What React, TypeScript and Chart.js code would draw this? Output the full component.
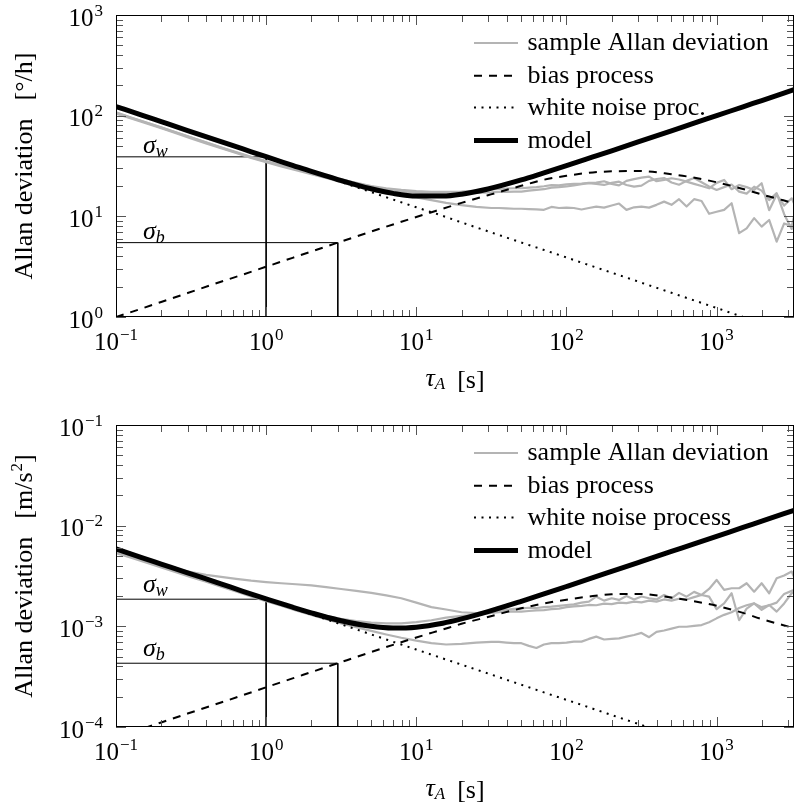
import React, { useEffect, useRef } from "react";
import { Chart, registerables } from "chart.js";

Chart.register(...registerables);

const FONT = "'Liberation Serif', 'Times New Roman', serif";
const GRAY = "rgb(180,180,180)";

// ---------- shared axes ----------
const xMin = 0.1;
const xMax = 3276.8;
const xTickExps = [-1, 0, 1, 2, 3];
const yTickExpsGyro = [0, 1, 2, 3];
const yTickExpsAccel = [-4, -3, -2, -1];

// ---------- model curves (tau grid) ----------
const tauModel = [0.1, 0.15, 0.2, 0.3, 0.5, 0.7, 1, 1.5, 2, 3, 5, 7, 10, 15, 20, 30, 50, 70, 100, 150, 200, 300, 500, 700, 1000, 1500, 2000, 3277];

const gyroModel = [123.3, 100.7, 87.2, 71.2, 55.2, 46.7, 39.1, 32.1, 27.9, 23.2, 18.8, 16.9, 15.9, 15.9, 16.6, 18.7, 23.0, 26.9, 31.9, 38.9, 44.8, 54.8, 70.7, 83.7, 100.0, 122.5, 141.4, 181.0];
const gyroBias = [1.0, 1.22, 1.41, 1.73, 2.24, 2.64, 3.16, 3.87, 4.47, 5.48, 7.05, 8.3, 9.85, 11.9, 13.6, 16.2, 20.1, 23.0, 25.3, 27.3, 28.0, 28.2, 26.2, 24.3, 21.8, 18.7, 16.5, 13.5];
const gyroWhite = [123.3, 100.7, 87.2, 71.2, 55.2, 46.6, 39.0, 31.8, 27.6, 22.5, 17.4, 14.7, 12.3, 10.1, 8.7, 7.1, 5.5, 4.66, 3.9, 3.18, 2.76, 2.25, 1.74, 1.47, 1.23, 1.0, 0.87, 0.68];

const accelModel = [5.88e-3, 4.8e-3, 4.16e-3, 3.4e-3, 2.64e-3, 2.23e-3, 1.877e-3, 1.549e-3, 1.361e-3, 1.157e-3, 1.0e-3, 9.61e-4, 9.8e-4, 1.073e-3, 1.185e-3, 1.4e-3, 1.773e-3, 2.086e-3, 2.487e-3, 3.04e-3, 3.51e-3, 4.3e-3, 5.55e-3, 6.56e-3, 7.84e-3, 9.61e-3, 1.109e-2, 1.42e-2];
const accelBias = [7.85e-5, 9.6e-5, 1.11e-4, 1.36e-4, 1.75e-4, 2.07e-4, 2.48e-4, 3.04e-4, 3.51e-4, 4.3e-4, 5.55e-4, 6.55e-4, 7.75e-4, 9.3e-4, 1.06e-3, 1.24e-3, 1.51e-3, 1.68e-3, 1.84e-3, 2.0e-3, 2.08e-3, 2.1e-3, 1.93e-3, 1.78e-3, 1.6e-3, 1.36e-3, 1.18e-3, 9.6e-4];
const accelWhite = [5.88e-3, 4.8e-3, 4.16e-3, 3.4e-3, 2.63e-3, 2.22e-3, 1.86e-3, 1.52e-3, 1.315e-3, 1.074e-3, 8.32e-4, 7.03e-4, 5.88e-4, 4.8e-4, 4.16e-4, 3.4e-4, 2.63e-4, 2.22e-4, 1.86e-4, 1.52e-4, 1.315e-4, 1.074e-4, 8.32e-5, 7.03e-5, 5.88e-5, 4.8e-5, 4.16e-5, 3.25e-5];

// ---------- sample Allan deviations (tau grid) ----------
const tauSample = [
  0.1, 0.126, 0.158, 0.2, 0.251, 0.316, 0.398, 0.501, 0.631, 0.794,
  1, 1.26, 1.58, 2, 2.51, 3.16, 3.98, 5.01, 6.31, 7.94,
  10, 12.6, 15.8, 20, 25.1, 31.6,
  35.5, 39.8, 44.7, 50.1, 56.2, 63.1, 70.8, 79.4, 89.1, 100,
  112, 126, 141, 158, 178, 200, 224, 251, 282, 316,
  355, 398, 447, 501, 562, 631, 708, 794, 891, 1000,
  1122, 1259, 1413, 1585, 1778, 1995, 2239, 2512, 2818, 3162,
  3277,
];

const gyroSample1 = [
  105, 94, 84, 75, 67, 59.5, 53, 47.5, 42.5, 38,
  34.5, 31.3, 28.7, 26.2, 24.0, 21.8, 19.8, 18.2, 16.9, 16.0,
  15.4, 14.5, 13.6, 12.9, 12.4, 12.1,
  12.1, 12.0, 11.9, 11.9, 11.8, 11.7, 11.6, 12.4, 12.1, 12.2,
  12.1, 11.7, 12.1, 12.5, 12.2, 12.8, 13.4, 11.6, 12.3, 12.5,
  12.2, 13.0, 14.0, 13.0, 14.8, 12.5, 14.8, 14.2, 10.6, 11.1,
  11.6, 13.5, 6.8, 7.6, 9.6, 7.9, 9.2, 5.6, 8.5, 8.0,
  9.9,
];
const gyroSample2 = [
  107, 95, 85.5, 76, 68, 60.5, 54, 48, 43, 38.5,
  35, 31.8, 29.5, 27, 25.0, 23.2, 21.5, 20.0, 19.0, 18.3,
  17.8, 17.5, 17.5, 17.6, 18.0, 18.5,
  18.7, 18.9, 19.0, 19.0, 19.3, 19.5, 19.9, 20.4, 20.3, 20.8,
  21.0, 21.2, 21.5, 21.6, 22.3, 21.0, 20.3, 22.5, 23.4, 24.2,
  24.8, 22.3, 23.0, 23.9, 23.2, 22.1, 21.0, 20.0, 19.0, 21.5,
  23.0, 18.6, 20.5, 19.5, 18.3, 21.3, 11.5, 16.5, 12.8, 15.1,
  13.5,
];
const gyroSample3 = [
  108, 96, 86, 76.5, 68.5, 61, 54.5, 48.5, 43.5, 39,
  35.5, 32.2, 29.8, 27.3, 25.3, 23.4, 21.3, 19.7, 18.5, 17.7,
  17.2, 16.9, 16.8, 16.9, 17.1, 17.3,
  17.5, 17.5, 17.6, 17.6, 18.0, 18.3, 18.6, 19.3, 19.5, 19.8,
  20.3, 20.9, 21.3, 21.0, 20.5, 21.5, 22.1, 20.5, 19.7, 20.2,
  22.5, 23.5, 24.0, 21.7, 20.6, 22.5, 24.0, 21.8, 19.8, 18.3,
  19.5, 20.7, 17.6, 16.8, 19.7, 18.0, 14.5, 17.0, 10.5, 7.5,
  9.0,
];

const accelSample1 = [
  5.5e-3, 4.95e-3, 4.45e-3, 4.0e-3, 3.7e-3, 3.45e-3, 3.25e-3, 3.1e-3, 2.96e-3, 2.84e-3,
  2.75e-3, 2.68e-3, 2.62e-3, 2.55e-3, 2.45e-3, 2.35e-3, 2.25e-3, 2.15e-3, 2.03e-3, 1.9e-3,
  1.72e-3, 1.55e-3, 1.47e-3, 1.38e-3, 1.35e-3, 1.4e-3,
  1.43e-3, 1.46e-3, 1.49e-3, 1.51e-3, 1.53e-3, 1.52e-3, 1.55e-3, 1.57e-3, 1.6e-3, 1.63e-3,
  1.65e-3, 1.72e-3, 1.76e-3, 1.97e-3, 1.8e-3, 1.9e-3, 1.83e-3, 2.0e-3, 1.85e-3, 1.98e-3,
  1.9e-3, 1.85e-3, 2.05e-3, 1.9e-3, 2.15e-3, 1.97e-3, 2.2e-3, 2.05e-3, 2.35e-3, 2.89e-3,
  2.3e-3, 2.39e-3, 2.39e-3, 2.68e-3, 2.21e-3, 2.68e-3, 2.13e-3, 3.0e-3, 3.2e-3, 3.5e-3,
  3.1e-3,
];
const accelSample2 = [
  5.45e-3, 4.9e-3, 4.4e-3, 3.92e-3, 3.52e-3, 3.14e-3, 2.82e-3, 2.53e-3, 2.27e-3, 2.04e-3,
  1.84e-3, 1.66e-3, 1.5e-3, 1.37e-3, 1.27e-3, 1.19e-3, 1.13e-3, 1.09e-3, 1.07e-3, 1.07e-3,
  1.1e-3, 1.15e-3, 1.22e-3, 1.27e-3, 1.3e-3, 1.36e-3,
  1.38e-3, 1.4e-3, 1.41e-3, 1.4e-3, 1.42e-3, 1.44e-3, 1.45e-3, 1.48e-3, 1.5e-3, 1.55e-3,
  1.58e-3, 1.6e-3, 1.63e-3, 1.62e-3, 1.68e-3, 1.66e-3, 1.72e-3, 1.7e-3, 1.76e-3, 1.73e-3,
  1.8e-3, 1.76e-3, 1.85e-3, 1.8e-3, 1.88e-3, 1.85e-3, 1.95e-3, 2.05e-3, 1.97e-3, 1.48e-3,
  1.69e-3, 2.13e-3, 1.15e-3, 1.5e-3, 1.69e-3, 1.46e-3, 1.63e-3, 1.4e-3, 1.69e-3, 2.13e-3,
  2.2e-3,
];
const accelSample3 = [
  5.35e-3, 4.8e-3, 4.3e-3, 3.85e-3, 3.45e-3, 3.08e-3, 2.77e-3, 2.48e-3, 2.22e-3, 1.98e-3,
  1.78e-3, 1.6e-3, 1.44e-3, 1.3e-3, 1.18e-3, 1.07e-3, 9.8e-4, 9.0e-4, 8.3e-4, 7.7e-4,
  7.2e-4, 6.8e-4, 6.6e-4, 6.7e-4, 6.9e-4, 7.0e-4,
  7.0e-4, 6.9e-4, 6.8e-4, 6.8e-4, 6.4e-4, 6.1e-4, 6.6e-4, 6.8e-4, 6.8e-4, 6.9e-4,
  7.05e-4, 7.05e-4, 7.5e-4, 7.9e-4, 7.4e-4, 7.5e-4, 7.6e-4, 7.9e-4, 8.2e-4, 8.6e-4,
  7.8e-4, 8.8e-4, 9.1e-4, 9.5e-4, 9.9e-4, 9.9e-4, 1.01e-3, 1.03e-3, 1.1e-3, 1.2e-3,
  1.3e-3, 1.38e-3, 1.52e-3, 1.62e-3, 1.69e-3, 1.55e-3, 1.62e-3, 1.72e-3, 2.1e-3, 2.25e-3,
  2.3e-3,
];

// ---------- annotations ----------
const gyroSigmaW = 39;
const gyroSigmaB = 5.48;
const accelSigmaW = 1.86e-3;
const accelSigmaB = 4.3e-4;
const tauSigmaW = 1;
const tauSigmaB = 3;

const legendGyro = ["sample Allan deviation", "bias process", "white noise proc.", "model"];
const legendAccel = ["sample Allan deviation", "bias process", "white noise process", "model"];

type PanelCfg = {
  id: string;
  height: number;
  padTop: number;
  padBottom: number;
  yMin: number;
  yMax: number;
  yExps: number[];
  unit: string;
  unitSup: string;
  legend: string[];
  model: number[];
  bias: number[];
  white: number[];
  samples: number[][];
  sigmaW: number;
  sigmaB: number;
  sigmaOffset: number;
};

const gyroCfg: PanelCfg = {
  id: "gyro",
  height: 400,
  padTop: 15,
  padBottom: 83,
  yMin: 1,
  yMax: 1000,
  yExps: yTickExpsGyro,
  unit: "[\u00B0/h]",
  unitSup: "",
  legend: legendGyro,
  model: gyroModel,
  bias: gyroBias,
  white: gyroWhite,
  samples: [gyroSample1, gyroSample2, gyroSample3],
  sigmaW: gyroSigmaW,
  sigmaB: gyroSigmaB,
  sigmaOffset: 4,
};

const accelCfg: PanelCfg = {
  id: "accel",
  height: 406,
  padTop: 25,
  padBottom: 79,
  yMin: 1e-4,
  yMax: 1e-1,
  yExps: yTickExpsAccel,
  unit: "[m/s",
  unitSup: "2",
  legend: legendAccel,
  model: accelModel,
  bias: accelBias,
  white: accelWhite,
  samples: [accelSample1, accelSample2, accelSample3],
  sigmaW: accelSigmaW,
  sigmaB: accelSigmaB,
  sigmaOffset: 7,
};

function pts(xs: number[], ys: number[]) {
  return xs.map((x, i) => ({ x, y: ys[i] }));
}

function drawPow(ctx: CanvasRenderingContext2D, exp: number, x: number, y: number, align: "center" | "right") {
  const base = "10";
  const e = exp < 0 ? "\u2212" + Math.abs(exp) : String(exp);
  ctx.font = `25px ${FONT}`;
  const wb = ctx.measureText(base).width;
  ctx.font = `17px ${FONT}`;
  const we = ctx.measureText(e).width;
  const total = wb + 1 + we;
  const left = align === "center" ? x - total / 2 : x - total;
  ctx.textAlign = "left";
  ctx.textBaseline = "alphabetic";
  ctx.font = `25px ${FONT}`;
  ctx.fillText(base, left, y);
  ctx.font = `17px ${FONT}`;
  ctx.fillText(e, left + wb + 1, y - 10);
}

function makeDecor(cfg: PanelCfg) {
  return {
    id: "decor_" + cfg.id,
    afterDraw(chart: any) {
      const ctx: CanvasRenderingContext2D = chart.ctx;
      const { left, right, top, bottom } = chart.chartArea;
      const xs = chart.scales.x;
      const ys = chart.scales.y;
      ctx.save();
      ctx.fillStyle = "#000";

      // ticks (inward, all four sides)
      ctx.lineWidth = 1;
      ctx.strokeStyle = "#555";
      ctx.setLineDash([]);
      for (let e = -1; e <= 3; e++) {
        for (let m = 1; m <= 9; m++) {
          const v = m * Math.pow(10, e);
          if (v < xMin * 0.999 || v > xMax) continue;
          const px = Math.round(xs.getPixelForValue(v)) + 0.5;
          const len = m === 1 ? 10 : 7;
          ctx.beginPath();
          ctx.moveTo(px, bottom);
          ctx.lineTo(px, bottom - len);
          ctx.moveTo(px, top);
          ctx.lineTo(px, top + len);
          ctx.stroke();
        }
      }
      const e0 = Math.round(Math.log10(cfg.yMin));
      const e1 = Math.round(Math.log10(cfg.yMax));
      for (let e = e0; e <= e1; e++) {
        for (let m = 1; m <= 9; m++) {
          const v = m * Math.pow(10, e);
          if (v > cfg.yMax * 1.001) continue;
          const py = Math.round(ys.getPixelForValue(v)) + 0.5;
          const len = m === 1 ? 10 : 7;
          ctx.beginPath();
          ctx.moveTo(left, py);
          ctx.lineTo(left + len, py);
          ctx.moveTo(right, py);
          ctx.lineTo(right - len, py);
          ctx.stroke();
        }
      }

      // frame
      ctx.strokeStyle = "#000";
      ctx.strokeRect(left + 0.5, top + 0.5, right - left - 1, bottom - top - 1);

      // tick labels
      for (const e of xTickExps) {
        drawPow(ctx, e, xs.getPixelForValue(Math.pow(10, e)), bottom + 33, "center");
      }
      for (const e of cfg.yExps) {
        drawPow(ctx, e, left - 13, ys.getPixelForValue(Math.pow(10, e)) + 10.5, "right");
      }

      // x axis title: tau_A [s]
      {
        ctx.font = `italic 26px ${FONT}`;
        const wTau = ctx.measureText("\u03C4").width;
        ctx.font = `italic 17px ${FONT}`;
        const wA = ctx.measureText("A").width;
        ctx.font = `26px ${FONT}`;
        const wS = ctx.measureText("[s]").width;
        const gap = 12;
        const total = wTau + wA + gap + wS;
        let x = (left + right) / 2 - total / 2;
        const yb = bottom + 71;
        ctx.textAlign = "left";
        ctx.font = `italic 26px ${FONT}`;
        ctx.fillText("\u03C4", x, yb - 2);
        x += wTau;
        ctx.font = `italic 17px ${FONT}`;
        ctx.fillText("A", x, yb + 1);
        x += wA + gap;
        ctx.font = `26px ${FONT}`;
        ctx.fillText("[s]", x, yb);
      }

      // y axis title
      {
        ctx.save();
        ctx.translate(32, (top + bottom) / 2);
        ctx.rotate(-Math.PI / 2);
        ctx.font = `26px ${FONT}`;
        const t1 = "Allan deviation";
        const w1 = ctx.measureText(t1).width;
        const w2 = ctx.measureText(cfg.unit).width;
        ctx.font = `17px ${FONT}`;
        const w3 = cfg.unitSup ? ctx.measureText(cfg.unitSup).width + 1 : 0;
        ctx.font = `26px ${FONT}`;
        const w4 = cfg.unitSup ? ctx.measureText("]").width : 0;
        const gap = 18;
        const total = w1 + gap + w2 + w3 + w4;
        let x = -total / 2;
        ctx.textAlign = "left";
        ctx.fillText(t1, x, 0);
        x += w1 + gap;
        ctx.fillText(cfg.unit, x, 0);
        x += w2;
        if (cfg.unitSup) {
          ctx.font = `17px ${FONT}`;
          ctx.fillText(cfg.unitSup, x + 1, -10);
          x += w3;
          ctx.font = `26px ${FONT}`;
          ctx.fillText("]", x, 0);
        }
        ctx.restore();
      }

      // sigma labels
      {
        const lx = left + 27;
        const drawSigma = (sub: string, v: number) => {
          const yb = ys.getPixelForValue(v) - cfg.sigmaOffset;
          ctx.textAlign = "left";
          ctx.font = `italic 26px ${FONT}`;
          ctx.fillText("\u03C3", lx, yb);
          const w = ctx.measureText("\u03C3").width;
          ctx.font = `italic 18px ${FONT}`;
          ctx.fillText(sub, lx + w, yb + 4);
        };
        drawSigma("w", cfg.sigmaW);
        drawSigma("b", cfg.sigmaB);
      }

      // legend
      {
        const items = [
          { color: GRAY, width: 2.2, dash: [] as number[] },
          { color: "#000", width: 2, dash: [8, 7] },
          { color: "#000", width: 2, dash: [2, 5.5] },
          { color: "#000", width: 5, dash: [] as number[] },
        ];
        const rows = [28, 60.7, 92.5, 125.5];
        items.forEach((it, i) => {
          const y = top + rows[i];
          ctx.save();
          ctx.strokeStyle = it.color;
          ctx.lineWidth = it.width;
          ctx.lineCap = "butt";
          ctx.setLineDash(it.dash);
          ctx.beginPath();
          ctx.moveTo(474, y);
          ctx.lineTo(518, y);
          ctx.stroke();
          ctx.restore();
          ctx.font = `26px ${FONT}`;
          ctx.textAlign = "left";
          ctx.textBaseline = "alphabetic";
          ctx.fillStyle = "#000";
          ctx.fillText(cfg.legend[i], 527.5, y + 7);
        });
      }
      ctx.restore();
    },
  };
}

function Panel({ cfg, top }: { cfg: PanelCfg; top: number }) {
  const ref = useRef<HTMLCanvasElement | null>(null);
  useEffect(() => {
    const canvas = ref.current;
    if (!canvas) return;
    const smooth = { pointRadius: 0, cubicInterpolationMode: "monotone" as const, fill: false };
    const datasets: any[] = [
      { label: "model", data: pts(tauModel, cfg.model), borderColor: "#000", borderWidth: 5, ...smooth },
      { label: "bias process", data: pts(tauModel, cfg.bias), borderColor: "#000", borderWidth: 2, borderDash: [8, 7], ...smooth },
      { label: "white noise", data: pts(tauModel, cfg.white), borderColor: "#000", borderWidth: 2, borderDash: [2, 5.5], ...smooth },
      ...cfg.samples.map((s, i) => ({
        label: "sample " + (i + 1),
        data: pts(tauSample, s),
        borderColor: GRAY,
        borderWidth: 2.2,
        pointRadius: 0,
        tension: 0,
        fill: false,
      })),
      {
        label: "sigma_w",
        data: [
          { x: xMin, y: cfg.sigmaW },
          { x: tauSigmaW, y: cfg.sigmaW },
          { x: tauSigmaW, y: cfg.yMin },
        ],
        borderColor: "#000",
        borderWidth: 1,
        pointRadius: 0,
        tension: 0,
      },
      {
        label: "sigma_b",
        data: [
          { x: xMin, y: cfg.sigmaB },
          { x: tauSigmaB, y: cfg.sigmaB },
          { x: tauSigmaB, y: cfg.yMin },
        ],
        borderColor: "#000",
        borderWidth: 1,
        pointRadius: 0,
        tension: 0,
      },
    ];
    const chart = new Chart(canvas, {
      type: "line",
      data: { datasets },
      options: {
        animation: false,
        responsive: false,
        maintainAspectRatio: false,
        devicePixelRatio: 1,
        events: [],
        layout: { padding: { left: 116, right: 1, top: cfg.padTop, bottom: cfg.padBottom } },
        elements: { point: { radius: 0 }, line: { borderCapStyle: "butt", borderJoinStyle: "round" } },
        scales: {
          x: { type: "logarithmic", min: xMin, max: xMax, display: false },
          y: { type: "logarithmic", min: cfg.yMin, max: cfg.yMax, display: false },
        },
        plugins: { legend: { display: false }, tooltip: { enabled: false } },
      } as any,
      plugins: [makeDecor(cfg)],
    });
    return () => chart.destroy();
  }, [cfg]);
  return (
    <canvas
      ref={ref}
      width={795}
      height={cfg.height}
      style={{ position: "absolute", left: 0, top, width: 795, height: cfg.height, display: "block" }}
    />
  );
}

export default function App() {
  return (
    <div style={{ position: "absolute", left: 0, top: 0, width: 795, height: 806, background: "#fff" }}>
      <Panel cfg={gyroCfg} top={0} />
      <Panel cfg={accelCfg} top={400} />
    </div>
  );
}
